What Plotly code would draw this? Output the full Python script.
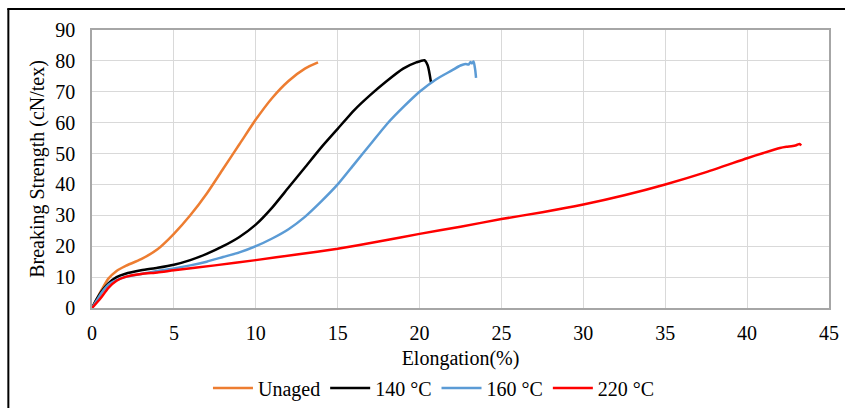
import plotly.graph_objects as go

# ---- data ----
unaged_x = [0, 0.3, 0.6, 1.0, 1.5, 2.0, 3.0, 4.0, 5.0, 6.0, 7.0, 8.0, 9.0, 10.0, 11.0, 12.0, 13.0, 13.8]
unaged_y = [0, 3, 6, 9.5, 12, 13.5, 15.8, 19, 24, 30, 37, 45, 53, 61, 68, 73.5, 77.5, 79.5]

c140_x = [0, 0.3, 0.6, 1.0, 1.5, 2.0, 3.0, 4.0, 5.0, 6.0, 7.0, 8.0, 9.0, 10.0, 11.0, 12.0, 13.0,
          14.0, 15.0, 16.0, 17.0, 18.0, 19.0, 19.8, 20.3, 20.5, 20.7]
c140_y = [0, 3, 5.5, 8, 10, 11, 12.2, 13, 14, 15.5, 17.5, 20, 23, 27, 32.5, 39, 45.5,
          52, 58, 64, 69, 73.5, 77.5, 79.5, 80.2, 78.5, 73]

c160_x = [0, 0.3, 0.6, 1.0, 1.5, 2.0, 3.0, 4.0, 5.0, 6.0, 7.0, 8.0, 9.0, 10.0, 11.0, 12.0, 13.0,
          14.0, 15.0, 16.0, 17.0, 18.0, 19.0, 20.0, 21.0, 22.0, 22.5, 22.8, 23.0, 23.1, 23.2,
          23.3, 23.4, 23.45]
c160_y = [0, 2.5, 5, 7.5, 9, 10, 11, 12, 12.8, 13.8, 15, 16.5, 18, 20, 22.5, 25.5, 29.5,
          34.5, 40, 46.5, 53, 59.5, 65, 70, 74, 77, 78.5, 79, 78.8, 79.6, 79.2,
          79.8, 77, 74.5]

c220_x = [0, 0.5, 1.0, 1.5, 2.0, 3.0, 4.0, 5.0, 7.5, 10, 12.5, 15, 17.5, 20, 22.5, 25, 27.5, 30,
          32.5, 35, 37.5, 40, 41, 42, 42.4, 42.7, 43.0, 43.2, 43.3]
c220_y = [0, 3, 6.5, 8.8, 10, 11, 11.5, 12.2, 13.8, 15.5, 17.3, 19.2, 21.5, 24, 26.3, 28.8, 31, 33.5,
          36.5, 40, 44, 48.5, 50.2, 51.8, 52.2, 52.4, 52.7, 53.1, 52.6]

series_names = ["Unaged", "140 °C", "160 °C", "220 °C"]
series_colors = ["#ED7D31", "#000000", "#5B9BD5", "#FF0000"]

x_ticks = [0, 5, 10, 15, 20, 25, 30, 35, 40, 45]
y_ticks = [0, 10, 20, 30, 40, 50, 60, 70, 80, 90]

FONT = "Liberation Serif, Times New Roman, serif"
FS = 20

fig = go.Figure()
for name, color, xs, ys in zip(series_names, series_colors,
                               [unaged_x, c140_x, c160_x, c220_x],
                               [unaged_y, c140_y, c160_y, c220_y]):
    fig.add_trace(go.Scatter(x=xs, y=ys, mode="lines", name=name,
                             line=dict(color=color, width=2.5, shape="spline", smoothing=0.6)))

fig.update_layout(
    width=845, height=408,
    margin=dict(l=92, r=16, t=30, b=100, autoexpand=False),
    paper_bgcolor="white", plot_bgcolor="white",
    font=dict(family=FONT, size=FS, color="black"),
    showlegend=True,
    legend=dict(orientation="h", x=0.464, xanchor="center", y=-0.288, yanchor="middle",
                font=dict(family=FONT, size=FS), itemwidth=40, tracegroupgap=0,
                bgcolor="rgba(0,0,0,0)"),
    xaxis=dict(range=[0, 45], tickvals=x_ticks, showgrid=True, gridcolor="#d9d9d9", gridwidth=1,
               showline=True, linecolor="#a6a6a6", linewidth=1.5, mirror=True, zeroline=False,
               ticks="", ticklabelstandoff=6, automargin=False,
               title=dict(text="Elongation(%)", font=dict(family=FONT, size=FS), standoff=8)),
    yaxis=dict(range=[0, 90], tickvals=y_ticks, showgrid=True, gridcolor="#d9d9d9", gridwidth=1,
               showline=True, linecolor="#a6a6a6", linewidth=1.5, mirror=True, zeroline=False,
               ticks="", ticklabelstandoff=11, automargin=False,
               title=dict(text="Breaking Strength (cN/tex)", font=dict(family=FONT, size=FS), standoff=5)),
    shapes=[
        dict(type="line", xref="paper", yref="paper", x0=-0.115, x1=1.03, y0=1.0755, y1=1.0755,
             line=dict(color="black", width=2)),
        dict(type="line", xref="paper", yref="paper", x0=-0.1135, x1=-0.1135, y0=1.0755, y1=-0.4,
             line=dict(color="black", width=2)),
    ],
)

fig.write_html("out.html", config={"displayModeBar": False},
               post_script="document.body.style.margin='0px';document.body.style.padding='0px';")
